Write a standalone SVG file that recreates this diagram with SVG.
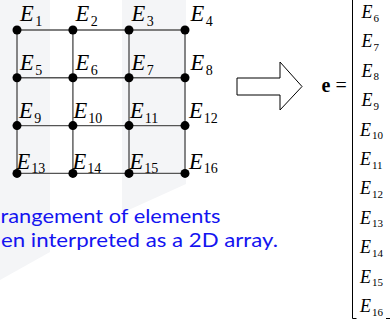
<svg xmlns="http://www.w3.org/2000/svg" width="390" height="323" viewBox="0 0 390 323">
<style>
.bg{fill:#f4f5f7}
.ln{stroke:#555;stroke-width:1.4;fill:none}
.dot{fill:#000}
.E{font-family:"Liberation Serif",serif;font-style:italic;font-size:22.5px;fill:#000}
.s{font-style:normal;font-size:14px}
.M{font-family:"Liberation Serif",serif;font-style:italic;font-size:18px;fill:#000}
.ms{font-style:normal;font-size:11px}
.blue{font-family:Lato,"Open Sans",sans-serif;font-size:20px;fill:#1414f0}
.eq{font-family:"Liberation Serif",serif;font-size:20px;fill:#000}
</style>
<rect width="390" height="323" fill="#fff"/>
<polygon class="bg" points="0,0 50,0 50,252 0,280"/>
<polygon class="bg" points="122,0 186,0 186,184 122,213"/>
<g id="connectors">
<path class="ln" d="M17,30H185M17,77.7H185M17,125.6H185M17,173.4H185M17,30V173.4M72.9,30V173.4M129,30V173.4M185,30V173.4"/>
</g>
<g id="n1"><circle class="dot" cx="17" cy="30" r="4.5"/><text class="E" x="20" y="20.5">E<tspan class="s" dx="1.5" dy="5">1</tspan></text></g>
<g id="n2"><circle class="dot" cx="72.9" cy="30" r="4.5"/><text class="E" x="75.5" y="20.5">E<tspan class="s" dx="1.5" dy="5">2</tspan></text></g>
<g id="n3"><circle class="dot" cx="129" cy="30" r="4.5"/><text class="E" x="131.5" y="20.5">E<tspan class="s" dx="1.5" dy="5">3</tspan></text></g>
<g id="n4"><circle class="dot" cx="185" cy="30" r="4.5"/><text class="E" x="190.5" y="20.5">E<tspan class="s" dx="1.5" dy="5">4</tspan></text></g>
<g id="n5"><circle class="dot" cx="17" cy="77.7" r="4.5"/><text class="E" x="20" y="70">E<tspan class="s" dx="1.5" dy="4.5">5</tspan></text></g>
<g id="n6"><circle class="dot" cx="72.9" cy="77.7" r="4.5"/><text class="E" x="75.5" y="70">E<tspan class="s" dx="1.5" dy="4.5">6</tspan></text></g>
<g id="n7"><circle class="dot" cx="129" cy="77.7" r="4.5"/><text class="E" x="131.5" y="70">E<tspan class="s" dx="1.5" dy="4.5">7</tspan></text></g>
<g id="n8"><circle class="dot" cx="185" cy="77.7" r="4.5"/><text class="E" x="190.5" y="70">E<tspan class="s" dx="1.5" dy="4.5">8</tspan></text></g>
<g id="n9"><circle class="dot" cx="17" cy="125.6" r="4.5"/><text class="E" x="19" y="118">E<tspan class="s" dx="1.5" dy="4.5">9</tspan></text></g>
<g id="n10"><circle class="dot" cx="72.9" cy="125.6" r="4.5"/><text class="E" x="73.5" y="118">E<tspan class="s" dx="1" dy="4.5">10</tspan></text></g>
<g id="n11"><circle class="dot" cx="129" cy="125.6" r="4.5"/><text class="E" x="130" y="118">E<tspan class="s" dx="1" dy="4.5">11</tspan></text></g>
<g id="n12"><circle class="dot" cx="185" cy="125.6" r="4.5"/><text class="E" x="189" y="118">E<tspan class="s" dx="1" dy="4.5">12</tspan></text></g>
<g id="n13"><circle class="dot" cx="17" cy="173.4" r="4.5"/><text class="E" x="16.5" y="169">E<tspan class="s" dx="1" dy="4">13</tspan></text></g>
<g id="n14"><circle class="dot" cx="72.9" cy="173.4" r="4.5"/><text class="E" x="72.5" y="169">E<tspan class="s" dx="1" dy="4">14</tspan></text></g>
<g id="n15"><circle class="dot" cx="129" cy="173.4" r="4.5"/><text class="E" x="129.5" y="169">E<tspan class="s" dx="1" dy="4">15</tspan></text></g>
<g id="n16"><circle class="dot" cx="185" cy="173.4" r="4.5"/><text class="E" x="189" y="169">E<tspan class="s" dx="1" dy="4">16</tspan></text></g>
<g id="caption">
<text class="blue" x="0.5" y="223" textLength="220" lengthAdjust="spacingAndGlyphs">rangement of elements</text>
<text class="blue" x="1" y="247" textLength="277" lengthAdjust="spacingAndGlyphs">en interpreted as a 2D array.</text>
</g>
<g id="arrow">
<polygon points="237,78 280,78 280,62 302,86.5 280,110 280,95 237,95" fill="#fff" stroke="#000" stroke-width="1"/>
</g>
<g id="vector">
<text class="eq" x="321.5" y="92"><tspan font-weight="bold">e</tspan> =</text>
<path d="M352.5,0V318.5H356.5M386,318.5H390" stroke="#000" stroke-width="1" fill="none"/>
<text class="M" x="361.5" y="18">E<tspan class="ms" dx="1" dy="3.5">6</tspan></text>
<text class="M" x="361.5" y="47.4">E<tspan class="ms" dx="1" dy="3.5">7</tspan></text>
<text class="M" x="361.5" y="76.8">E<tspan class="ms" dx="1" dy="3.5">8</tspan></text>
<text class="M" x="361.5" y="106.2">E<tspan class="ms" dx="1" dy="3.5">9</tspan></text>
<text class="M" x="360" y="135.6">E<tspan class="ms" dx="1" dy="3.5">10</tspan></text>
<text class="M" x="360" y="165">E<tspan class="ms" dx="1" dy="3.5">11</tspan></text>
<text class="M" x="360" y="194.4">E<tspan class="ms" dx="1" dy="3.5">12</tspan></text>
<text class="M" x="360" y="223.8">E<tspan class="ms" dx="1" dy="3.5">13</tspan></text>
<text class="M" x="360" y="253.2">E<tspan class="ms" dx="1" dy="3.5">14</tspan></text>
<text class="M" x="360" y="282.6">E<tspan class="ms" dx="1" dy="3.5">15</tspan></text>
<text class="M" x="360" y="312">E<tspan class="ms" dx="1" dy="3.5">16</tspan></text>
</g>
</svg>
